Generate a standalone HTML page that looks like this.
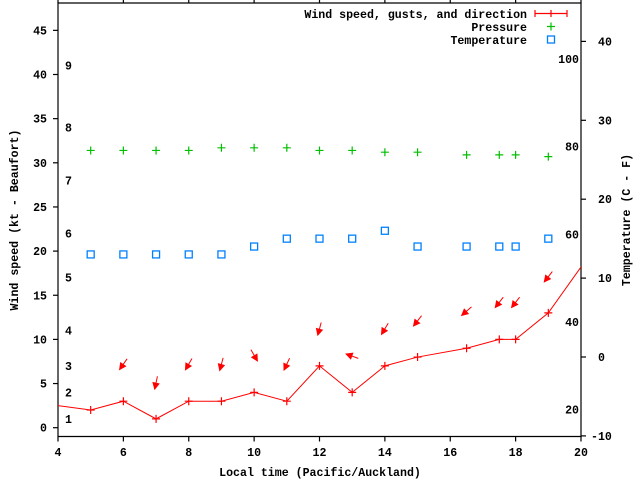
<!DOCTYPE html>
<html><head><meta charset="utf-8"><style>
html,body{margin:0;padding:0;background:#fff}
svg text{font-family:"Liberation Mono",monospace;font-weight:bold;font-size:11.6px;fill:#000}
</style></head><body>
<svg id="chart" width="640" height="480" xmlns="http://www.w3.org/2000/svg"></svg>
<script>
const times=[5,6,7,8,9,10,11,12,13,14,15,16.5,17.5,18,19];
const windSpeed=[2,3,1,3,3,4,3,7,4,7,8,9,10,10,13];
const lineTimes=[3,5,6,7,8,9,10,11,12,13,14,15,16.5,17.5,18,19,21];
const lineSpeeds=[3,2,3,1,3,3,4,3,7,4,7,8,9,10,10,13,23.4];
const gusts=[7.2,5.1,7.2,7.2,8.2,7.2,11.2,8.1,11.2,12.1,13.2,14.2,14.2,17.1];
const gustTimes=[6,7,8,9,10,11,12,13,14,15,16.5,17.5,18,19];
const windDir=[35,12,30,15,330,25,15,110,31,38,49,38,38,38];
const pressure=[31.4,31.4,31.4,31.4,31.7,31.7,31.7,31.4,31.4,31.2,31.2,30.9,30.9,30.9,30.7];
const temperature=[13,13,13,13,13,14,15,15,15,16,14,14,14,14,15];
const xTicks=[4,6,8,10,12,14,16,18,20];
const yTicks=[0,5,10,15,20,25,30,35,40,45];
const cTicks=[-10,0,10,20,30,40];
const fLabels=[20,40,60,80,100];
const bftLabels=[1,2,3,4,5,6,7,8,9];
const bftPos=[1.0,4.0,7.0,11.0,17.0,22.0,28.0,34.0,41.0];

const L=58,R=581,T=3,B=436.5;
const sx=t=>L+(t-4)*(R-L)/16;
const sy=v=>427.7-v*8.83;
const syC=c=>357-c*7.89;
const syF=f=>syC((f-32)*5/9);
const svg=document.getElementById('chart');
const NS='http://www.w3.org/2000/svg';
function mk(tag,attrs,parent){const e=document.createElementNS(NS,tag);for(const k in attrs)e.setAttribute(k,attrs[k]);(parent||svg).appendChild(e);return e;}
const clip=mk('clipPath',{id:'pc'});mk('rect',{x:L,y:T,width:R-L,height:B-T},clip);

// frame
let fr=mk('path',{d:`M${L},${T}H${R}V${B}H${L}Z`,fill:'none',stroke:'#000','stroke-width':1.2});



xTicks.forEach(t=>{
  const x=sx(t);
  let tk=mk('path',{d:`M${x},${B}v5M${x},${T}v-5`,stroke:'#000','stroke-width':1.2});
  
  
  let tx=mk('text',{x:x,y:456,'text-anchor':'middle'});tx.textContent=t;
  
  
});
yTicks.forEach(v=>{
  const y=sy(v);
  let tk=mk('path',{d:`M${L},${y}h-5`,stroke:'#000','stroke-width':1.2});
  
  
  let tx=mk('text',{x:47,y:y+4,'text-anchor':'end'});tx.textContent=v;
  
  
});
cTicks.forEach(c=>{
  const y=syC(c);
  let tk=mk('path',{d:`M${R},${y}h5`,stroke:'#000','stroke-width':1.2});
  
  
  let tx=mk('text',{x:c<0?591:598,y:y+4});tx.textContent=c;
  
  
});
fLabels.forEach(f=>{
  let tx=mk('text',{x:579,y:syF(f)+4,'text-anchor':'end'});tx.textContent=f;
  
  
});
bftLabels.forEach((b,i)=>{
  let tx=mk('text',{x:65,y:sy(bftPos[i])+4});tx.textContent=b;
  
  
});

const g=mk('g',{'clip-path':'url(#pc)'});


// wind line
let ln=mk('polyline',{points:lineTimes.map((t,i)=>sx(t)+','+sy(lineSpeeds[i])).join(' '),fill:'none',stroke:'#f00','stroke-width':1},g);


times.forEach((t,i)=>{
  const x=sx(t),y=sy(windSpeed[i]);
  let p=mk('path',{d:`M${x-4},${y}h8M${x},${y-4}v8`,stroke:'#f00','stroke-width':1.2},g);
  
  
  const py=sy(pressure[i]);
  let pp=mk('path',{d:`M${x-4},${py}h8M${x},${py-4}v8`,stroke:'#00c000','stroke-width':1.2},g);
  
  
  const ty=syC(temperature[i]);
  let sq=mk('rect',{x:x-3.5,y:ty-3.5,width:7,height:7,fill:'none',stroke:'#0080ff','stroke-width':1.3},g);
  
  
});
gustTimes.forEach((t,i)=>{
  const cx=sx(t),cy=sy(gusts[i]);
  const a=windDir[i]*Math.PI/180;
  const ux=Math.sin(a),uy=-Math.cos(a); // toward source
  const len=13;
  const tx=cx+ux*len/2,ty=cy+uy*len/2,hx=cx-ux*len/2,hy=cy-uy*len/2;
  const px=-uy,py=ux;
  const bx=hx+ux*6,by=hy+uy*6;
  let gr=mk('g',{},g);
  
  
  mk('line',{x1:tx,y1:ty,x2:hx,y2:hy,stroke:'#f00','stroke-width':1},gr);
  mk('polygon',{points:`${hx},${hy} ${bx+px*3},${by+py*3} ${bx-px*3},${by-py*3}`,fill:'#f00',stroke:'#f00','stroke-width':1},gr);
});

// legend
const leg=mk('g',{});


[['Wind speed, gusts, and direction',18],['Pressure',31],['Temperature',44]].forEach(([s,y])=>{
  let tx=mk('text',{x:527,y:y,'text-anchor':'end'},leg);tx.textContent=s;
  
  
});
mk('path',{d:'M535,13.5h32M535,10v7M567,10v7M551,10v7',stroke:'#f00','stroke-width':1.2},leg);
mk('path',{d:'M547,26.5h8M551,22.5v8',stroke:'#00c000','stroke-width':1.2},leg);
mk('rect',{x:547.5,y:36,width:7,height:7,fill:'none',stroke:'#0080ff','stroke-width':1.3},leg);

// axis titles
let xt=mk('text',{x:320,y:476,'text-anchor':'middle'});xt.textContent='Local time (Pacific/Auckland)';


let yt=mk('text',{x:0,y:0,'text-anchor':'middle',transform:'translate(18,220) rotate(-90)'});yt.textContent='Wind speed (kt - Beaufort)';


let y2=mk('text',{x:0,y:0,'text-anchor':'middle',transform:'translate(630,220) rotate(-90)'});y2.textContent='Temperature (C - F)';


</script>
</body></html>
